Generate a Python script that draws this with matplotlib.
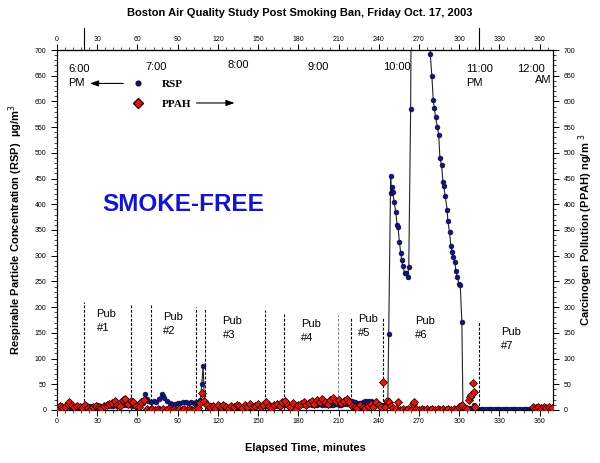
import matplotlib
matplotlib.use("Agg")
import matplotlib.pyplot as plt
from matplotlib.lines import Line2D
from matplotlib.ticker import MultipleLocator

plt.rcParams['font.family'] = ['Liberation Sans', 'DejaVu Sans']

# ---- data ----
# RSP, respirable particles (ug/m3), left axis
rsp_minutes = [0, 2, 4, 6, 8, 10, 12, 14, 16, 18, 20, 22, 24, 26, 28, 30, 32, 34, 36, 38,
               40, 42, 44, 46, 48, 50, 52, 54, 56, 58, 60, 62, 64,
               66, 67, 68, 70, 72, 74, 76, 78, 79, 80, 82, 84, 86, 88, 90, 92, 94, 96, 98,
               100, 102, 104, 106, 107, 108, 109, 110, 112, 114,
               116, 118, 120, 122, 124, 126, 128, 130, 132, 134, 136, 138, 140, 142, 144,
               146, 148, 150, 152, 154, 156, 158, 160, 162, 164, 166, 168, 170, 172, 174,
               176, 178, 180, 182, 184, 186, 188, 190, 192, 194, 196, 198, 200, 202, 204,
               206, 208, 210, 212, 214, 216, 218, 220, 222, 224, 226, 228, 230, 232, 234,
               236, 238, 240, 242, 244, 246, 246.8,
               247.4, 248.9, 249.3, 249.8, 250.4, 251.5, 252.7, 253.7, 254.4, 255.4, 256.4,
               257.2, 257.9, 259.4, 260.5, 261.5, 262.4, 263.8, 264.8,
               277.2, 278.4, 279.6, 280.7, 281.4, 282.4, 283.7, 284.8, 285.6, 286.9, 287.9,
               288.4, 289.6, 291.1, 291.5, 292.8, 293.8, 294.8, 295.6, 296.8, 297.5, 298.6,
               299.8, 300.8, 302.0, 302.8, 304, 306, 308, 310, 311, 312, 314,
               316, 318, 320, 322, 324, 326, 328, 330, 332, 334, 336, 338, 340, 342, 344,
               346, 348, 350, 352, 354, 356, 358, 360, 362, 364, 366, 368, 370]
rsp_values = [4, 5, 6, 5, 7, 6, 8, 7, 6, 7, 10, 9, 8, 7, 8, 9, 8, 7, 8, 9,
              8, 8, 9, 10, 9, 10, 9, 10, 8, 7, 6, 8, 14,
              32, 22, 18, 16, 17, 16, 22, 31, 28, 23, 18, 14, 12, 11, 13, 14, 15, 15, 14,
              15, 14, 15, 16, 20, 50, 85, 18, 12, 9,
              8, 7, 6, 7, 6, 5, 6, 5, 6, 5, 6, 5, 6, 5, 6,
              7, 6, 7, 6, 8, 7, 8, 9, 7, 8, 9, 10, 9, 10, 8,
              9, 10, 9, 10, 9, 10, 11, 10, 9, 10, 11, 10, 9, 10, 9,
              10, 11, 10, 9, 11, 12, 14, 18, 15, 13, 14, 16, 17, 18, 17,
              16, 14, 12, 10, 9, 12, 20,
              148, 455, 422, 434, 423, 404, 385, 359, 355, 327, 305,
              291, 280, 266, 266, 258, 279, 585, 1100,
              1100, 693, 650, 602, 588, 569, 551, 534, 490, 476, 443,
              436, 416, 388, 368, 346, 319, 307, 297, 287, 270, 259,
              245, 243, 171, 8, 3, 4, 3, 4, 10, 3, 2,
              2, 2, 2, 2, 2, 2, 2, 2, 2, 2, 2, 2, 2, 2, 2,
              2, 2, 2, 2, 2, 2, 2, 2, 2, 2, 2, 2, 2]

# PPAH, carcinogen pollution (ng/m3), right axis
ppah_minutes = [0, 2, 4, 6, 8, 9, 11, 13, 15, 17, 19, 21, 23, 25, 27, 29, 31, 33, 35, 37,
                39, 41, 43, 45, 47, 49, 51, 53, 55, 57, 59, 61, 63, 65,
                67, 69, 71, 73, 75, 77, 79, 81, 83, 85, 87, 89, 91, 93, 95, 97, 99, 101,
                103, 105, 107, 108, 110, 112,
                114, 116, 118, 120, 122, 124, 126, 128, 130, 132, 134, 136, 138, 140, 142,
                144, 146, 148, 150, 152, 154, 156, 158, 160, 162, 164, 166, 168, 170, 172,
                174, 176, 178, 180, 182, 184, 186, 188, 190, 192, 194, 196, 198, 200, 202,
                204, 206, 208, 210, 212, 214, 216, 218, 220, 222, 224, 226, 228, 230, 232,
                234, 236, 238, 240, 242, 243, 245, 246.5, 248, 249.5, 251, 253, 254.5, 256,
                258, 260, 262, 264, 265.5, 266.5, 268, 270, 272, 274, 276, 278, 280, 282,
                284, 286, 288, 290, 292, 294, 296, 298, 300, 301, 302, 304, 306, 307, 308,
                309, 310, 311, 312, 355, 357, 359, 361, 363, 365, 367, 369]
ppah_values = [3, 8, 5, 6, 12, 15, 10, 6, 8, 5, 3, 10, 4, 2, 6, 8, 5, 3, 8, 10,
               12, 14, 18, 10, 8, 20, 22, 12, 18, 16, 8, 5, 15, 20,
               2, 0, 1, 0, 2, 0, 1, 0, 2, 0, 1, 0, 2, 0, 1, 0, 2, 0,
               1, 4, 14, 33, 18, 10,
               6, 8, 4, 9, 5, 10, 6, 3, 8, 5, 10, 7, 4, 9, 6,
               11, 5, 8, 12, 6, 10, 15, 8, 4, 10, 12, 8, 15, 18, 10,
               6, 14, 2, 9, 12, 16, 10, 14, 18, 12, 20, 15, 22, 16, 12,
               19, 24, 18, 20, 14, 18, 22, 16, 8, 5, 3, 10, 6, 4, 8,
               12, 5, 15, 10, 6, 55, 6, 18, 16, 8, 4, 2, 15, 0,
               1, 0, 1, 0, 12, 15, 2, 0, 1, 0, 1, 0, 1, 0,
               1, 0, 1, 0, 1, 0, 1, 0, 5, 8, 10, 3, 1, 20, 25,
               30, 52, 35, 5, 5, 3, 6, 4, 5, 3, 5, 4]

# pub visits: dashed boundaries (minute, line top)
pub_edges = [20, 55.4, 70, 103.8, 110.5, 155, 169.7, 209.6, 219.6, 243.2, 314.7]
pub_tops = [210, 204, 204, 200, 196, 194, 189, 185, 179, 179, 172]
pub_names = ['Pub\n#1', 'Pub\n#2', 'Pub\n#3', 'Pub\n#4', 'Pub\n#5', 'Pub\n#6', 'Pub\n#7']
pub_label_x = [29.5, 79, 123.5, 182, 224.5, 267, 331]
pub_label_y = [197, 191, 182, 177, 187, 182, 161]

clock_labels = ['6:00\nPM', '7:00', '8:00', '9:00', '10:00', '11:00\nPM', '12:00']
clock_x = [8.5, 66, 127, 187, 243, 305, 343.5]
clock_y = [672, 677, 681, 677, 677, 672, 672]

fig = plt.figure(figsize=(6.0, 4.63), dpi=100)
ax = fig.add_axes([0.095, 0.1145, 0.8267, 0.7775])
ax2 = ax.twinx()

ax.plot(rsp_minutes, rsp_values, color='#222222', lw=0.8, marker='o', ms=3.4,
        mfc='#14147a', mec='#0a0a40', mew=0.5, zorder=3)
ax2.plot(ppah_minutes, ppah_values, ls='none', marker='D', ms=4.2,
         mfc='#e01a10', mec='#3a0000', mew=0.6, zorder=4)

for xe, top in zip(pub_edges, pub_tops):
    c = '#888888' if xe == 209.6 else 'black'
    ax.plot([xe, xe], [0, top], color=c, lw=0.8, ls=(0, (2.5, 1.5)), zorder=1)

for name, lx, ly in zip(pub_names, pub_label_x, pub_label_y):
    ax.text(lx, ly, name, fontsize=8, va='top', ha='left', linespacing=1.5)

for lab, cx, cy in zip(clock_labels, clock_x, clock_y):
    ax.text(cx, cy, lab, fontsize=8, va='top', ha='left', linespacing=1.4)
ax.text(369, 652, 'AM', fontsize=8, va='top', ha='right')

ax.text(34, 399, 'SMOKE-FREE', fontsize=17.5, fontweight='bold', color='#1515c8',
        va='center', ha='left')

# legend with arrows pointing to each axis
handles = [Line2D([], [], ls='none', marker='o', ms=3.4, mfc='#14147a', mec='#0a0a40'),
           Line2D([], [], ls='none', marker='D', ms=5.5, mfc='#e01a10', mec='#3a0000')]
leg = ax.legend(handles, ['RSP', 'PPAH'], loc='upper left', bbox_to_anchor=(0.14, 0.935),
                frameon=False, handlelength=1, handletextpad=1.7, labelspacing=0.95,
                borderpad=0, prop={'family': 'Liberation Serif', 'weight': 'bold', 'size': 8})
ax.annotate('', xy=(22.5, 635), xytext=(51.5, 635),
            arrowprops=dict(arrowstyle='-|>,head_length=0.5,head_width=0.18', color='black', lw=0.8))
ax.annotate('', xy=(134.5, 597), xytext=(102, 597),
            arrowprops=dict(arrowstyle='-|>,head_length=0.5,head_width=0.18', color='black', lw=0.8))

for a in (ax, ax2):
    a.set_xlim(0, 370)
    a.set_ylim(0, 700)
    a.yaxis.set_major_locator(MultipleLocator(50))
    a.yaxis.set_minor_locator(MultipleLocator(10))
    a.tick_params(labelsize=5, length=4, width=0.7, direction='out')
    a.tick_params(which='minor', length=2, width=0.5, direction='out')
ax.xaxis.set_major_locator(MultipleLocator(30))
ax.xaxis.set_minor_locator(MultipleLocator(6))
ax.tick_params(axis='x', pad=2)

top = ax.secondary_xaxis('top')
top.xaxis.set_major_locator(MultipleLocator(30))
top.xaxis.set_minor_locator(MultipleLocator(6))
top.tick_params(labelsize=5, length=4, width=0.7, pad=1)
top.tick_params(which='minor', length=2, width=0.5)
for xe in (pub_edges[0], pub_edges[-1]):
    ax.plot([xe, xe], [1.0, 1.062], color='black', lw=0.8, clip_on=False,
            transform=ax.get_xaxis_transform())

for s in ax.spines.values():
    s.set_linewidth(0.8)

ax.set_xlabel('Elapsed Time, minutes', fontsize=8, fontweight='bold', labelpad=13)
ax.set_ylabel('Respirable Particle Concentration (RSP)  \u00b5g/m$^3$', fontsize=8,
              fontweight='bold')
ax.yaxis.set_label_coords(-0.064, 0.5)
ax2.set_ylabel('Carcinogen Pollution (PPAH) ng/m $^3$', fontsize=8, fontweight='bold')
ax2.yaxis.set_label_coords(1.047, 0.5)
fig.suptitle('Boston Air Quality Study Post Smoking Ban, Friday Oct. 17, 2003',
             fontsize=8, fontweight='bold', y=0.982)

fig.savefig('out.png', dpi=100)
